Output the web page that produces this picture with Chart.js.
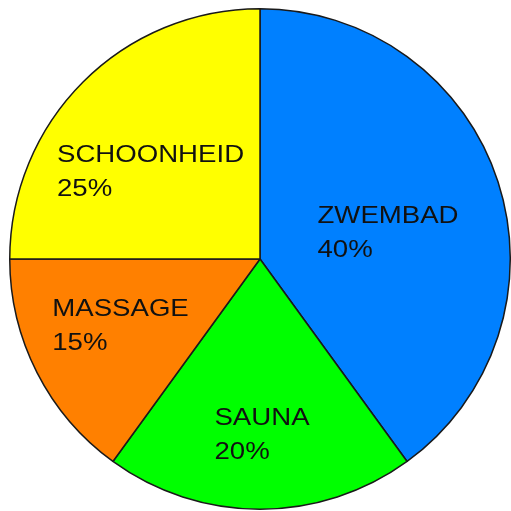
<!DOCTYPE html>
<html>
<head>
<meta charset="utf-8">
<script src="https://cdn.jsdelivr.net/npm/chart.js@4/dist/chart.umd.min.js"></script>
<style>
html,body{margin:0;padding:0;background:#fff;}
#wrap{width:511px;height:511px;position:relative;}
</style>
</head>
<body>
<div id="wrap"><canvas id="c" width="511" height="511"></canvas></div>
<script>
const categories = ["ZWEMBAD", "SAUNA", "MASSAGE", "SCHOONHEID"];
const values = [40, 20, 15, 25];
const colors = ["#0080ff", "#00ff00", "#ff8000", "#ffff00"];
// label block offsets from each slice's default label anchor (px)
const labelShift = [[9, 11], [2, 49], [-28, 9], [-21, 0]];

const sliceLabels = {
  id: 'sliceLabels',
  afterDatasetsDraw(chart) {
    const ctx = chart.ctx;
    const meta = chart.getDatasetMeta(0);
    const total = values.reduce((a, b) => a + b, 0);
    const fontSize = 24, sx = 1.15, lineGap = 34;
    ctx.save();
    ctx.font = fontSize + 'px "Liberation Sans", Arial, sans-serif';
    ctx.fillStyle = '#111';
    ctx.textBaseline = 'alphabetic';
    ctx.textAlign = 'left';
    meta.data.forEach((arc, i) => {
      const p = arc.tooltipPosition();
      const l1 = categories[i];
      const l2 = Math.round(values[i] / total * 100) + '%';
      const w = Math.max(ctx.measureText(l1).width, ctx.measureText(l2).width) * sx;
      const cx = p.x + labelShift[i][0];
      const cy = p.y + labelShift[i][1];
      const left = cx - w / 2;
      const capH = fontSize * 0.716;
      const blockH = lineGap + capH;
      const b1 = cy - blockH / 2 + capH;
      [l1, l2].forEach((t, k) => {
        ctx.save();
        ctx.translate(left, b1 + k * lineGap);
        ctx.scale(sx, 1);
        ctx.fillText(t, 0, 0);
        ctx.restore();
      });
    });
    ctx.restore();
  }
};

new Chart(document.getElementById('c'), {
  type: 'pie',
  data: {
    labels: categories,
    datasets: [{
      data: values,
      backgroundColor: colors,
      borderColor: '#1a1a1a',
      borderWidth: 1.5,
      hoverOffset: 0
    }]
  },
  options: {
    responsive: false,
    animation: false,
    events: [],
    layout: { padding: { left: 9, top: 8, right: 0, bottom: 1 } },
    plugins: {
      legend: { display: false },
      tooltip: { enabled: false }
    }
  },
  plugins: [sliceLabels]
});
</script>
</body>
</html>
